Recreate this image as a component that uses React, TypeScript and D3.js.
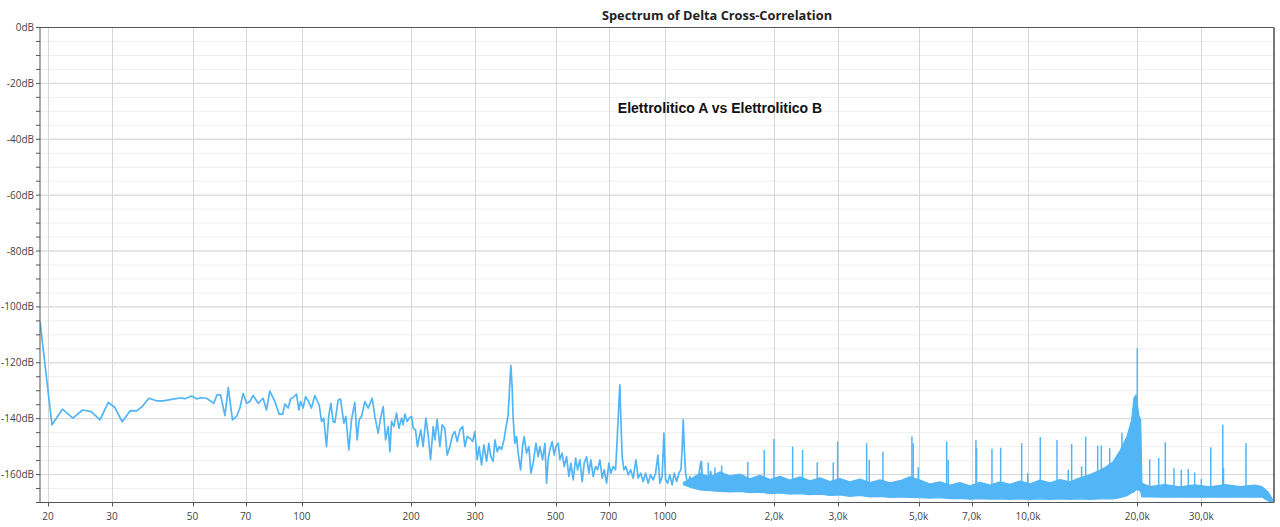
import * as d3 from 'd3';

const W = 1280, H = 527;
const M = { left: 40, right: 1274, top: 27.5, bottom: 502.5 };

// x axis (Hz, log) and y axis (dB)
const X_TICKS = [20, 30, 50, 70, 100, 200, 300, 500, 700, 1000, 2000, 3000, 5000, 7000, 10000, 20000, 30000];
const X_LABELS = ['20', '30', '50', '70', '100', '200', '300', '500', '700', '1000', '2,0k', '3,0k', '5,0k', '7,0k', '10,0k', '20,0k', '30,0k'];
const Y_MAJOR = [0, -20, -40, -60, -80, -100, -120, -140, -160];
const Y_MINOR = d3.range(0, -171, -5);

// low-frequency part of the spectrum, [Hz, dB]
const lowTrace: [number, number][] = [
  [19.0, -105.3], [20.5, -142.2], [21.9, -136.6], [23.4, -139.8], [24.9, -136.9], [26.3, -137.5],
  [27.8, -140.4], [29.3, -134.2], [30.5, -135.9], [32.0, -141.1], [33.7, -137.1], [35.1, -137.2],
  [36.3, -135.7], [37.9, -132.7], [39.8, -133.6], [41.5, -133.6], [44.2, -133.0], [46.6, -132.5],
  [47.6, -132.9], [49.7, -131.9], [51.3, -132.9], [52.9, -132.5], [54.6, -132.7], [57.2, -134.5],
  [58.4, -131.5], [59.7, -131.5], [61.4, -138.9], [62.7, -128.9], [64.4, -140.4], [66.1, -139.2],
  [67.5, -136.2], [68.9, -130.9], [70.4, -134.5], [71.9, -133.9], [73.4, -131.7], [75.8, -134.5],
  [78.2, -132.7], [79.9, -136.9], [81.6, -130.1], [84.3, -133.9], [86.6, -138.4], [88.5, -138.4],
  [89.8, -134.8], [91.7, -136.2], [93.1, -132.9], [94.6, -132.5], [96.7, -131.2], [98.1, -136.9],
  [99.2, -133.9], [100.8, -136.2], [102.4, -132.1], [104.1, -133.6], [106.3, -136.2], [108.6, -131.7],
  [111.6, -135.1], [113.3, -141.0], [114.9, -139.8], [116.9, -150.0], [118.6, -139.0], [120.2, -134.5],
  [121.9, -141.0], [123.3, -141.4], [125.9, -133.3], [127.8, -133.0], [130.5, -141.6], [132.2, -139.2],
  [134.7, -151.2], [137.0, -140.4], [139.9, -134.2], [142.0, -147.6], [143.8, -140.4], [146.0, -139.2],
  [149.1, -133.9], [152.3, -136.2], [156.2, -132.7], [158.9, -139.2], [162.2, -145.2], [164.7, -139.8],
  [167.5, -135.7], [170.1, -147.6], [172.9, -142.8], [174.8, -151.8], [176.6, -141.0], [179.2, -142.8],
  [182.3, -138.0], [185.0, -143.4], [188.2, -139.8], [190.1, -142.2], [192.2, -138.4], [195.0, -141.0],
  [197.5, -139.8], [200.5, -139.2], [202.6, -143.4], [205.6, -144.0], [208.2, -150.0], [210.3, -147.0],
  [212.6, -144.0], [215.8, -150.0], [219.6, -139.8], [222.8, -145.8], [226.2, -154.7], [230.0, -142.8],
  [232.5, -147.6], [235.8, -140.2], [240.0, -150.0], [243.5, -142.2], [247.6, -143.4], [251.3, -153.0],
  [255.7, -150.0], [260.0, -145.8], [263.9, -144.6], [267.8, -148.2], [272.5, -144.0], [277.2, -142.8],
  [281.2, -150.0], [285.4, -146.4], [290.3, -147.0], [295.3, -148.2], [299.6, -144.6], [304.0, -154.7],
  [307.8, -150.0], [312.6, -156.5], [317.2, -149.4], [322.6, -155.3], [327.3, -148.8], [331.5, -153.6],
  [336.4, -155.3], [340.2, -147.6], [345.2, -151.8], [349.6, -150.0], [355.0, -151.0], [360.2, -147.6],
  [364.8, -143.3], [370.0, -138.6], [374.0, -127.2], [376.4, -120.9], [379.4, -128.5], [381.9, -139.8],
  [386.1, -148.8], [390.3, -146.4], [394.3, -152.3], [400.3, -158.3], [405.4, -150.0], [409.5, -146.4],
  [415.8, -152.3], [422.0, -150.0], [427.4, -159.5], [433.7, -155.9], [441.2, -148.8], [447.7, -153.6],
  [452.5, -150.0], [460.3, -154.7], [467.0, -148.8], [472.1, -163.1], [476.9, -154.7], [482.0, -151.2],
  [489.1, -148.2], [495.3, -153.0], [500.6, -150.0], [508.2, -148.8], [513.6, -154.7], [521.2, -152.3],
  [527.8, -157.1], [536.0, -153.6], [543.9, -160.7], [550.9, -155.9], [559.0, -161.9], [567.6, -154.1],
  [574.8, -158.3], [583.2, -154.7], [591.8, -162.5], [599.3, -155.9], [608.5, -153.6], [617.5, -159.5],
  [625.3, -154.7], [634.5, -160.7], [644.2, -157.1], [652.4, -158.3], [662.0, -154.7], [671.8, -161.3],
  [680.3, -158.3], [690.7, -163.1], [700.8, -155.9], [709.7, -159.5], [720.2, -157.1], [731.2, -158.3],
  [738.7, -147.6], [745.2, -136.9], [751.4, -127.9], [756.2, -140.4], [762.5, -153.6], [770.9, -158.3],
  [780.8, -157.1], [792.3, -160.1], [804.4, -158.3], [817.9, -161.3], [831.8, -154.7], [844.0, -161.3],
  [857.0, -159.5], [871.2, -162.5], [884.6, -159.5], [899.4, -163.1], [913.2, -160.1], [928.4, -161.9],
  [942.6, -159.5], [956.4, -153.0], [968.6, -163.1], [982.8, -160.7], [993.4, -145.2], [1004, -161.9],
  [1017, -163.1], [1032, -160.1], [1047, -163.7], [1061, -159.5], [1077, -162.5], [1093, -159.5],
  [1107, -158.3], [1116, -150.0], [1123, -140.4], [1130, -150.0], [1140, -159.5], [1155, -163.7],
  [1172, -160.7], [1189, -163.7], [1204, -161.3], [1223, -163.1], [1241, -159.5], [1257, -155.3],
  [1275, -163.7], [1295, -160.7], [1316, -163.1], [1336, -158.9], [1358, -163.7], [1382, -160.7],
  [1402, -163.1],
];

// dense noise floor above ~1.1 kHz: [Hz, upper dB, lower dB]
const noiseBand: [number, number, number][] = [
  [1125, -162.8, -163.6], [1172, -161.8, -164.5], [1249, -159.5, -165.5], [1331, -161.0, -165.8],
  [1418, -159.0, -166.0], [1511, -160.5, -166.2], [1610, -159.8, -166.0], [1715, -161.5, -166.5],
  [1827, -160.3, -166.3], [1947, -161.8, -166.8], [2074, -160.6, -166.6], [2210, -162.0, -167.0],
  [2355, -160.8, -166.8], [2509, -162.2, -167.2], [2673, -161.2, -167.0], [2848, -162.5, -167.5],
  [3035, -161.4, -167.3], [3233, -162.6, -167.8], [3445, -161.6, -167.5], [3671, -162.9, -168.0],
  [3911, -161.9, -167.8], [4167, -163.0, -168.2], [4440, -162.2, -168.0], [4731, -160.8, -168.2],
  [5041, -162.0, -168.3], [5371, -163.4, -168.4], [5722, -162.6, -168.3], [6097, -163.8, -168.6],
  [6496, -162.9, -168.5], [6922, -164.0, -168.8], [7375, -162.8, -168.6], [7858, -163.8, -168.8],
  [8373, -162.6, -168.7], [8921, -163.5, -168.9], [9505, -162.3, -168.7], [10130, -163.3, -168.9],
  [10790, -162.0, -168.7], [11500, -163.0, -168.9], [12250, -161.8, -168.7], [13050, -162.6, -168.9],
  [13910, -161.2, -168.7], [14820, -160.0, -168.9], [15790, -158.5, -168.7], [16290, -157.5, -168.7],
  [17140, -155.5, -168.7], [17920, -151.5, -168.3], [18730, -146.5, -167.6], [19300, -140.4, -166.5],
  [19580, -132.6, -166.2], [19840, -131.5, -165.5], [20220, -139.0, -165.5], [20440, -140.4, -166.2],
  [20600, -163.0, -168.0], [20900, -163.5, -168.0], [21680, -164.3, -168.0], [23840, -163.6, -168.1],
  [26220, -164.4, -168.0], [28830, -163.7, -168.1], [31720, -164.4, -168.0], [34890, -163.6, -168.1],
  [38370, -164.3, -168.0], [42200, -163.8, -168.1], [44120, -164.3, -168.0], [45820, -166.2, -169.4],
  [47280, -169.1, -169.9],
];

// discrete tones sticking out of the floor: [Hz, peak dB]
const spikes: [number, number][] = [
  [1262, -155.3], [1316, -155.7], [1373, -157.5], [1433, -156.8], [1692, -155.5], [1877, -151.2],
  [1996, -147.3], [2248, -150.0], [2394, -151.2], [2627, -155.6], [2908, -155.7], [2990, -148.2],
  [3594, -148.8], [3654, -154.7], [3986, -151.8], [4790, -146.4], [4830, -148.8], [4986, -157.4],
  [5970, -148.2], [6030, -154.7], [7188, -147.6], [7220, -150.6], [7958, -150.8], [8410, -150.4],
  [9608, -148.8], [9982, -159.5], [10810, -146.6], [12020, -147.6], [12910, -158.3], [13190, -149.1],
  [14050, -157.1], [14420, -146.4], [15560, -149.7], [15920, -149.6], [16790, -150.6], [17440, -154.5],
  [18150, -145.0], [20000, -114.8], [21640, -154.5], [22910, -154.1], [23890, -148.4], [25240, -157.7],
  [26440, -158.3], [27640, -158.0], [28780, -159.3], [30020, -161.6], [31870, -150.2], [34390, -142.2],
  [34560, -157.6], [39860, -148.8],
];

const BLUE = '#52b5f6';
const FONT = '"Open Sans", "Noto Sans", sans-serif';

export default function App() {
  const x = d3.scaleLog().domain([19, 47600]).range([M.left, M.right]);
  const y = d3.scaleLinear().domain([-170, 0]).range([M.bottom, M.top]);

  const line = d3.line<[number, number]>().x(d => x(d[0])).y(d => y(d[1]));
  const band = d3.area<[number, number, number]>()
    .x(d => x(d[0])).y0(d => y(d[2])).y1(d => y(d[1]));

  return (
    <svg width={W} height={H} style={{ position: 'absolute', left: 0, top: 0, background: '#fff' }}>
      <defs>
        <clipPath id="plot">
          <rect x={M.left} y={M.top} width={M.right - M.left} height={M.bottom - M.top} />
        </clipPath>
      </defs>

      {/* minor + major horizontal grid */}
      {Y_MINOR.map(v => (
        <line key={'mn' + v} x1={M.left} x2={M.right} y1={y(v)} y2={y(v)} stroke="#efefef" />
      ))}
      {Y_MAJOR.map(v => (
        <line key={'mj' + v} x1={M.left} x2={M.right} y1={y(v)} y2={y(v)} stroke="#d6d6d6" />
      ))}
      {X_TICKS.map(v => (
        <line key={'vx' + v} x1={Math.round(x(v)) + 0.5} x2={Math.round(x(v)) + 0.5} y1={M.top} y2={M.bottom} stroke="#d6d6d6" />
      ))}

      {/* spectrum */}
      <g clipPath="url(#plot)">
        <path d={band(noiseBand) ?? ''} fill={BLUE} stroke={BLUE} strokeWidth={1.2} strokeLinejoin="round" />
        {spikes.map(s => (
          <path key={'sp' + s[0]} d={line([[s[0], -165.5], s]) ?? ''} stroke={BLUE} strokeWidth={1.5} fill="none" />
        ))}
        <path d={line(lowTrace) ?? ''} fill="none" stroke={BLUE} strokeWidth={1.7} strokeLinejoin="round" />
      </g>

      {/* frame */}
      <line x1={M.left} x2={M.right} y1={M.top} y2={M.top} stroke="#555" />
      <line x1={M.left} x2={M.right} y1={M.bottom} y2={M.bottom} stroke="#555" />
      <line x1={M.left} x2={M.left} y1={M.top} y2={M.bottom} stroke="#555" />
      <line x1={M.right} x2={M.right} y1={M.top} y2={M.bottom} stroke="#777" strokeWidth={2} />

      {/* y axis */}
      {Y_MINOR.map(v => (
        <line key={'yt' + v} x1={M.left - 4} x2={M.left} y1={y(v)} y2={y(v)} stroke="#555" />
      ))}
      {Y_MAJOR.map(v => (
        <text key={'yl' + v} x={34} y={y(v) + 3.5} textAnchor="end" fontFamily={FONT} fontSize={10} fill="#444">
          {v}dB
        </text>
      ))}

      {/* x axis */}
      {X_TICKS.map((v, i) => (
        <g key={'xl' + v}>
          <line x1={Math.round(x(v)) + 0.5} x2={Math.round(x(v)) + 0.5} y1={M.bottom} y2={M.bottom + 4} stroke="#555" />
          <text x={x(v)} y={520} textAnchor="middle" fontFamily={FONT} fontSize={10} fill="#444">
            {X_LABELS[i]}
          </text>
        </g>
      ))}

      <text x={717} y={20} textAnchor="middle" fontFamily={FONT} fontWeight={700} fontSize={12.8} fill="#222">
        Spectrum of Delta  Cross-Correlation
      </text>
      <text x={720} y={113} textAnchor="middle" fontFamily='"Liberation Sans", Arial, sans-serif' fontWeight={700} fontSize={14} fill="#111">
        Elettrolitico A vs Elettrolitico B
      </text>
    </svg>
  );
}
